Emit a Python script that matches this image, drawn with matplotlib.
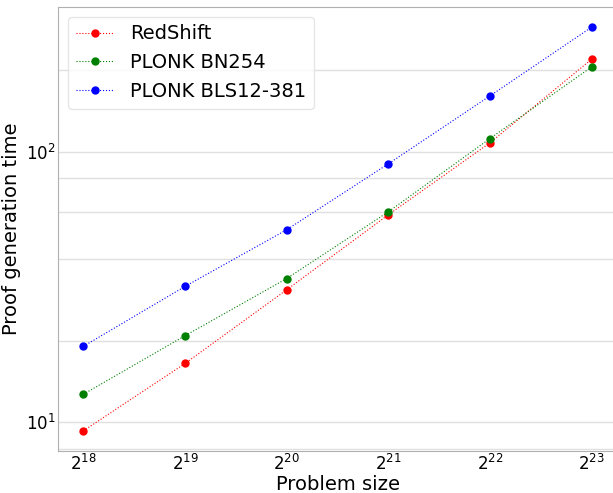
import matplotlib
matplotlib.use("Agg")
from matplotlib import pyplot as plt
from matplotlib.ticker import LogLocator, NullFormatter

matplotlib.rcParams.update({
    'font.size': 14,
})

sizes = [2**18, 2**19, 2**20, 2**21, 2**22, 2**23]
redshift = [9.3, 16.5, 30.9, 58.5, 108, 220]
plonk_bn254 = [12.7, 20.9, 34.0, 60.0, 112, 206]
plonk_bls = [19.1, 31.8, 51.5, 90.3, 161, 289]

fig = plt.figure(figsize=(6.13, 4.93), dpi=100)
ax = fig.add_axes([58 / 613, 42 / 493, 559 / 613, 444 / 493])

ax.plot(sizes, redshift, 'o:', color='red', lw=0.8, ms=5, label='RedShift')
ax.plot(sizes, plonk_bn254, 'o:', color='green', lw=0.8, ms=5, label='PLONK BN254')
ax.plot(sizes, plonk_bls, 'o:', color='blue', lw=0.8, ms=5, label='PLONK BLS12-381')

ax.set_xscale('log', base=2)
ax.set_yscale('log')
ax.set_xticks(sizes)
ax.xaxis.set_minor_locator(LogLocator(base=2, subs=[]))
ax.yaxis.set_minor_locator(LogLocator(base=10, subs=(2, 4, 6, 8)))
ax.yaxis.set_minor_formatter(NullFormatter())

ax.grid(True, axis='y', which='both', color='#e0e0e0', lw=1)
ax.set_axisbelow(True)
ax.tick_params(which='both', length=0, labelsize=12, pad=2)
for s in ax.spines.values():
    s.set_color('#b0b0b0')

ax.set_xlabel("Problem size", fontsize=14, labelpad=1)
ax.set_ylabel("Proof generation time", fontsize=14, labelpad=3)
ax.legend(loc='upper left', fontsize=14, framealpha=0.8, edgecolor='#e0e0e0',
          handlelength=2.0)

plt.savefig('out.png')
